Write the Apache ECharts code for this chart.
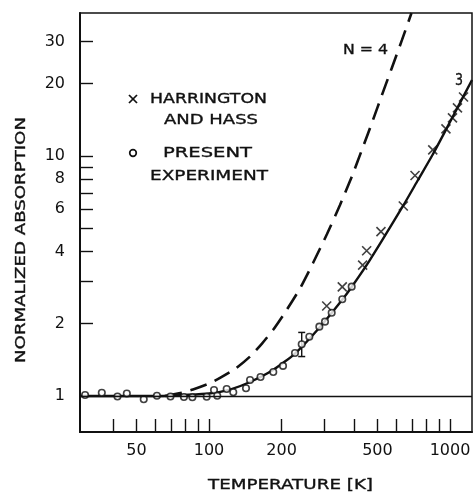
<!DOCTYPE html>
<html><head><meta charset="utf-8">
<script src="https://cdn.jsdelivr.net/npm/echarts@6/dist/echarts.min.js"></script>
<style>html,body{margin:0;padding:0;background:#fff}#chart{width:475px;height:495px}</style>
</head><body><div id="chart"></div>
<script>
// Axis ticks and labels
const xTicks = [40, 50, 60, 70, 80, 90, 100, 200, 300, 400, 500, 600, 700, 800, 900, 1000];
const xLabels = [50, 100, 200, 500, 1000];
const yTicks = [2, 3, 4, 5, 6, 7, 8, 9, 10, 20, 30];
const yLabels = [1, 2, 4, 6, 8, 10, 20, 30];
const xMin = 29.15, xMax = 1234, yMin = 0.708, yMax = 39.4;

// Present experiment (open circles)
const presentT = [30.6, 35.9, 41.7, 45.6, 53.6, 60.8, 69.2, 78.7, 85.3, 97.8, 104.9, 108.2, 118.4, 126.1, 142.4, 148, 163.6, 184.8, 202.8, 227.4, 242.5, 260.8, 287, 302.9, 322.9, 357.3, 390.9];
const presentA = [1.01, 1.032, 0.995, 1.024, 0.969, 1.003, 0.995, 0.99, 0.988, 0.993, 1.059, 1.003, 1.069, 1.036, 1.077, 1.166, 1.2, 1.259, 1.335, 1.51, 1.642, 1.766, 1.945, 2.04, 2.223, 2.53, 2.855];

// Harrington and Hass (crosses)
const hhT = [307.9, 357.3, 434, 451, 517, 640, 716, 848, 962, 1024, 1074, 1138];
const hhA = [2.37, 2.85, 3.51, 4.03, 4.84, 6.19, 8.29, 10.6, 12.96, 14.4, 15.85, 17.6];

// Theory curve N = 3 (solid)
const n3T = [29.15, 62.6, 79.5, 100, 122.2, 148, 184.3, 227.4, 288.8, 356.4, 392.1, 465.6, 638.3, 736.5, 850.3, 1000, 1234];
const n3A = [1.0, 1.0, 1.01, 1.024, 1.064, 1.144, 1.283, 1.503, 1.939, 2.512, 2.859, 3.69, 6.19, 7.94, 10.19, 13.85, 20.73];

// Theory curve N = 4 (dashed)
const n4T = [65.7, 78.0, 85.8, 99.0, 111.1, 128.2, 148, 165.9, 184.3, 208.7, 238.5, 270.1, 308.8, 349.6, 392.1, 435.5, 479.2, 522.2, 574.6, 632.2, 692.1];
const n4A = [1.0, 1.034, 1.064, 1.122, 1.189, 1.296, 1.461, 1.654, 1.884, 2.261, 2.805, 3.58, 4.73, 6.25, 8.25, 10.9, 14.13, 17.96, 23.37, 30.43, 39.4];

// Error bar
const errT = 242.5, errLow = 1.46, errHigh = 1.84;

const zip = (a, b) => a.map((v, i) => [v, b[i]]);
const INK = '#111';
const FONT = '"DejaVu Sans", sans-serif';

const cnv = document.createElement('canvas').getContext('2d');
function measure(t, font) { cnv.font = font; return cnv.measureText(t).width; }
function txt(t, left, right, cy, size) {
  const font = size + 'px "DejaVu Sans"';
  const w = measure(t, font);
  return { type: 'text', x: left, y: cy, scaleX: (right - left) / w,
    style: { text: t, font: font, fill: INK, stroke: INK, lineWidth: 0.35, align: 'left', verticalAlign: 'middle', textAlign: 'left', textVerticalAlign: 'middle' } };
}
function ytitle(t, bottom, top, cx, size) {
  const font = size + 'px "DejaVu Sans"';
  const w = measure(t, font);
  return { type: 'text', x: cx, y: bottom, rotation: Math.PI / 2, scaleX: (bottom - top) / w,
    style: { text: t, font: font, fill: INK, stroke: INK, lineWidth: 0.35, align: 'left', verticalAlign: 'middle', textAlign: 'left', textVerticalAlign: 'middle' } };
}

const chart = echarts.init(document.getElementById('chart'), null, { renderer: 'canvas' });
chart.setOption({
  animation: false,
  backgroundColor: '#fff',
  grid: { left: 80, right: 3, top: 13, bottom: 63, show: true, borderColor: INK, borderWidth: 1.5, backgroundColor: 'transparent' },
  xAxis: {
    type: 'log', logBase: 10, min: xMin, max: xMax,
    axisLine: { show: true, lineStyle: { color: INK, width: 2 } },
    axisTick: { show: true, inside: true, length: 13, customValues: xTicks, lineStyle: { color: INK, width: 1.4 } },
    axisLabel: { customValues: xLabels, margin: 11, color: INK, fontFamily: FONT, fontSize: 16, formatter: v => String(Math.round(v)) },
    splitLine: { show: false }, minorTick: { show: false }
  },
  yAxis: {
    type: 'log', logBase: 10, min: yMin, max: yMax,
    axisLine: { show: true, lineStyle: { color: INK, width: 2 } },
    axisTick: { show: true, inside: true, length: 13, customValues: yTicks, lineStyle: { color: INK, width: 1.4 } },
    axisLabel: { customValues: yLabels, margin: 15, color: INK, fontFamily: FONT, fontSize: 16, formatter: v => String(Math.round(v)) },
    splitLine: { show: false }, minorTick: { show: false }
  },
  series: [
    { name: 'N = 3', type: 'line', data: zip(n3T, n3A), showSymbol: false, smooth: 0.2,
      lineStyle: { color: INK, width: 2.4 }, z: 2,
      markLine: { silent: true, symbol: 'none', label: { show: false }, data: [{ yAxis: 1 }],
        lineStyle: { color: INK, width: 1.3, type: 'solid' } } },
    { name: 'N = 4', type: 'line', data: zip(n4T, n4A), showSymbol: false, smooth: 0.2,
      lineStyle: { color: INK, width: 2.6, type: [17, 9] }, z: 2 },
    { name: 'error', type: 'line', data: [[errT, errLow], [errT, errHigh]], symbol: 'rect', symbolSize: [7, 1.5], showAllSymbol: true,
      lineStyle: { color: INK, width: 1.4 }, itemStyle: { color: INK }, z: 3 },
    { name: 'PRESENT EXPERIMENT', type: 'scatter', data: zip(presentT, presentA), symbol: 'circle', symbolSize: 6.5,
      itemStyle: { color: '#fff', borderColor: INK, borderWidth: 1.6 }, z: 4 },
    { name: 'HARRINGTON AND HASS', type: 'scatter', data: zip(hhT, hhA), symbol: 'path://M0,0L10,10M10,0L0,10', symbolSize: 9,
      itemStyle: { color: 'transparent', borderColor: INK, borderWidth: 1.6 }, z: 4 }
  ],
  graphic: [
    { type: 'line', shape: { x1: 129, y1: 95, x2: 137, y2: 103 }, style: { stroke: INK, lineWidth: 1.7 } },
    { type: 'line', shape: { x1: 137, y1: 95, x2: 129, y2: 103 }, style: { stroke: INK, lineWidth: 1.7 } },
    { type: 'circle', shape: { cx: 133, cy: 153, r: 3.3 }, style: { fill: '#fff', stroke: INK, lineWidth: 1.7 } },
    txt('HARRINGTON', 150, 267, 99, 14),
    txt('AND HASS', 164, 258, 120.5, 14),
    txt('PRESENT', 163, 252, 153.5, 14),
    txt('EXPERIMENT', 150, 268, 176, 14),
    txt('N = 4', 343, 388, 50, 14),
    txt('3', 455, 463, 81, 15),
    txt('TEMPERATURE [K]', 208, 373, 485, 14),
    ytitle('NORMALIZED ABSORPTION', 363, 117, 21, 14)
  ]
});
</script></body></html>
